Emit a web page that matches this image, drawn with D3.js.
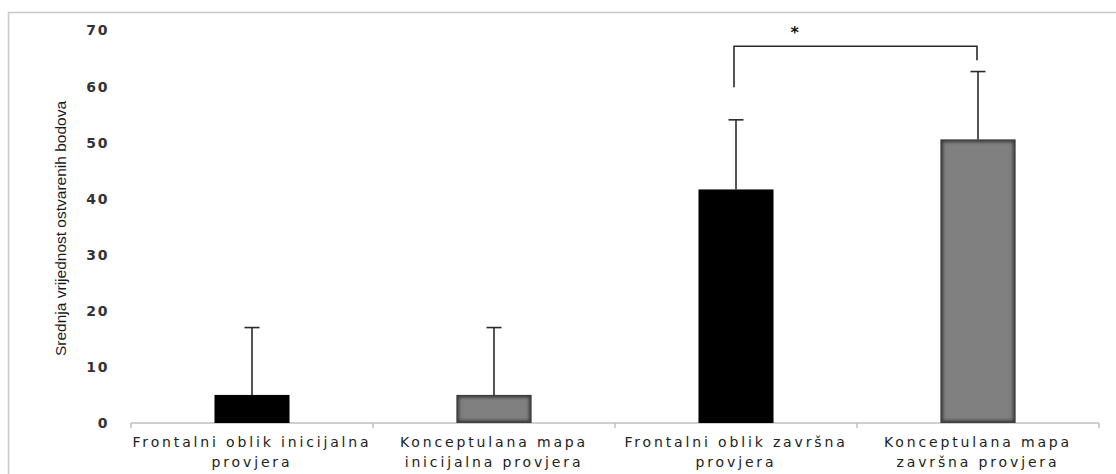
<!DOCTYPE html>
<html>
<head>
<meta charset="utf-8">
<script src="https://cdn.jsdelivr.net/npm/d3@7"></script>
<style>
  html, body { margin: 0; padding: 0; background: #fff; }
  svg { display: block; }
</style>
</head>
<body>
<svg id="chart" width="1116" height="474"></svg>
<script>
// Categories, each split into two label lines
const categories = [
  ["Frontalni oblik inicijalna", "provjera"],
  ["Konceptulana mapa", "inicijalna provjera"],
  ["Frontalni oblik završna", "provjera"],
  ["Konceptulana mapa", "završna provjera"]
];
// Mean score and upper error (standard deviation) per category
const means = [5, 5, 41.6, 50.5];
const errors = [12, 12, 12.4, 12.1];
const barColors = ["#000000", "#808080", "#000000", "#808080"];
const yTicks = [0, 10, 20, 30, 40, 50, 60, 70];
const yTitle = "Srednja vrijednost ostvarenih bodova";
// Significance bracket between the two final tests
const sigFrom = 2, sigTo = 3;
const sigTop = 67.1, sigLegFrom = 59.8, sigLegTo = 64.6, sigStarY = 70.6;

const svg = d3.select("#chart");
const keys = categories.map((c, i) => i);

const x = d3.scaleBand().domain(keys).range([131, 1099]).padding(0);
const y = d3.scaleLinear().domain([0, 70]).range([423, 30]);
const barW = x.bandwidth() * 0.31;
const cx = i => x(i) + x.bandwidth() / 2;

// Frame around the chart area
svg.append("path")
  .attr("d", "M8.5,474 V12.5 H1116")
  .attr("fill", "none").attr("stroke", "#c8c8c8").attr("stroke-width", 1.5);

// Inner shading for the grey bars
const defs = svg.append("defs");
const f = defs.append("filter").attr("id", "inset").attr("x", "-5%").attr("y", "-5%").attr("width", "110%").attr("height", "110%");
f.append("feFlood").attr("flood-color", "#3a3a3a");
f.append("feComposite").attr("in2", "SourceAlpha").attr("operator", "in").attr("result", "col");
f.append("feMorphology").attr("in", "SourceAlpha").attr("operator", "erode").attr("radius", 2.5).attr("result", "inner");
f.append("feGaussianBlur").attr("in", "inner").attr("stdDeviation", 1.5).attr("result", "blurInner");
f.append("feComposite").attr("in", "col").attr("in2", "blurInner").attr("operator", "out").attr("result", "edge");
const fm = f.append("feMerge");
fm.append("feMergeNode").attr("in", "SourceGraphic");
fm.append("feMergeNode").attr("in", "edge");

// Y axis (labels only)
const yAxis = svg.append("g").attr("transform", "translate(119,0)")
  .call(d3.axisLeft(y).tickValues(yTicks).tickSize(0).tickPadding(10));
yAxis.select(".domain").remove();
yAxis.selectAll("text")
  .attr("font-family", "DejaVu Sans, Verdana, sans-serif")
  .attr("font-size", 14).attr("font-weight", "bold")
  .attr("fill", "#333").attr("letter-spacing", 1.6)
  .attr("dy", "0.35em");

// Y axis title
svg.append("text")
  .attr("transform", `translate(66,${(97 + 360) / 2}) rotate(-90)`)
  .attr("text-anchor", "middle")
  .attr("font-family", "Liberation Sans, Arial, sans-serif")
  .attr("font-size", 15.5).attr("fill", "#1a1a1a")
  .text(yTitle);

// X axis baseline with category boundary ticks
const xAxis = svg.append("g").attr("transform", `translate(0,${y(0)})`);
xAxis.append("line").attr("x1", x.range()[0]).attr("x2", x.range()[1])
  .attr("stroke", "#bfbfbf").attr("stroke-width", 1.5);
const bounds = keys.map(k => x(k)).concat([x.range()[1]]);
xAxis.selectAll(".bt").data(bounds).join("line")
  .attr("x1", d => d).attr("x2", d => d).attr("y1", 0).attr("y2", 5)
  .attr("stroke", "#bfbfbf").attr("stroke-width", 1.5);

// Category labels
const lab = xAxis.selectAll(".lab").data(categories).join("text")
  .attr("text-anchor", "middle")
  .attr("font-family", "DejaVu Sans, Verdana, sans-serif")
  .attr("font-size", 14).attr("fill", "#222").attr("letter-spacing", 2.85);
lab.each(function(lines, i) {
  d3.select(this).selectAll("tspan").data(lines).join("tspan")
    .attr("x", cx(i)).attr("y", (d, j) => 24 + j * 20)
    .text(d => d);
});

// Bars
svg.selectAll(".bar").data(means).join("rect")
  .attr("x", (d, i) => cx(i) - barW / 2)
  .attr("y", d => y(d))
  .attr("width", barW)
  .attr("height", d => y(0) - y(d))
  .attr("fill", (d, i) => barColors[i])
  .attr("filter", (d, i) => barColors[i] === "#808080" ? "url(#inset)" : null);

// Upper error bars
const eb = svg.append("g").attr("stroke", "#2a2a2a").attr("stroke-width", 1.6);
means.forEach((m, i) => {
  eb.append("line").attr("x1", cx(i)).attr("x2", cx(i))
    .attr("y1", y(m)).attr("y2", y(m + errors[i]));
  eb.append("line").attr("x1", cx(i) - 7.5).attr("x2", cx(i) + 7.5)
    .attr("y1", y(m + errors[i])).attr("y2", y(m + errors[i]));
});

// Significance bracket
const bx1 = cx(sigFrom) - 2, bx2 = cx(sigTo) - 1;
svg.append("path")
  .attr("d", `M${bx1},${y(sigLegFrom)} V${y(sigTop)} H${bx2} V${y(sigLegTo)}`)
  .attr("fill", "none").attr("stroke", "#2a2a2a").attr("stroke-width", 1.6);
svg.append("text")
  .attr("x", bx1 + (bx2 - bx1) * 0.25).attr("y", y(sigStarY))
  .attr("text-anchor", "middle").attr("dy", "0.7em")
  .attr("font-family", "DejaVu Sans, sans-serif").attr("font-size", 16)
  .attr("font-weight", "bold").attr("fill", "#111")
  .text("*");
</script>
</body>
</html>
